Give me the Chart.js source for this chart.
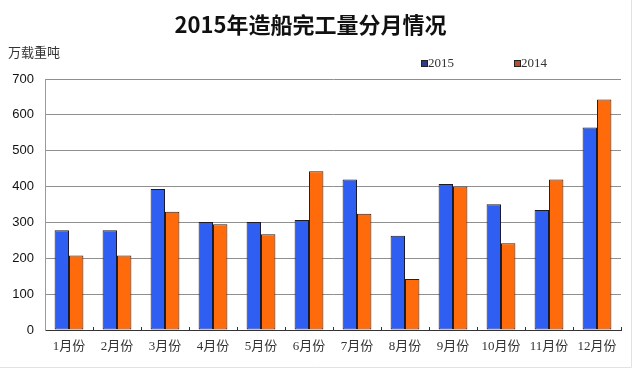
<!DOCTYPE html>
<html>
<head>
<meta charset="utf-8">
<script src="https://cdn.jsdelivr.net/npm/chart.js@4/dist/chart.umd.min.js"></script>
<style>
html,body{margin:0;padding:0;background:#fff;}
#wrap{position:relative;width:636px;height:371px;}
</style>
</head>
<body>
<div id="wrap"><canvas id="c" width="636" height="371"></canvas></div>
<script>
const titleText = '2015年造船完工量分月情况';
const unitText = '万载重吨';
const categories = ['1月份','2月份','3月份','4月份','5月份','6月份','7月份','8月份','9月份','10月份','11月份','12月份'];
const seriesNames = ['2015','2014'];
const values2015 = [278, 278, 393, 301, 301, 307, 420, 263, 407, 351, 335, 565];
const values2014 = [208, 208, 330, 295, 267, 443, 324, 142, 400, 242, 420, 643];
const yTicks = [0, 100, 200, 300, 400, 500, 600, 700];

const blue = '#2f5ff2';
const orange = '#ff6a0a';
const legendBox = ['#2e3a8c', '#b5502a'];

const overlay = {
  id: 'overlay',
  afterDraw(chart) {
    const ctx = chart.ctx;
    ctx.save();
    ctx.fillStyle = '#333';
    ctx.font = '13px "Noto Sans CJK SC", sans-serif';
    ctx.textAlign = 'left';
    ctx.textBaseline = 'middle';
    ctx.fillText(unitText, 8, 52);
    const xs = [421, 514];
    ctx.font = '13px "Liberation Serif", serif';
    chart.data.datasets.forEach((ds, i) => {
      ctx.fillStyle = legendBox[i];
      ctx.fillRect(xs[i], 60, 7, 7);
      ctx.strokeStyle = '#222';
      ctx.lineWidth = 1;
      ctx.strokeRect(xs[i] + 0.5, 60.5, 6, 6);
      ctx.fillStyle = '#333';
      ctx.fillText(ds.label, xs[i] + 7, 63.5);
    });
    ctx.strokeStyle = '#e2e2e2';
    ctx.beginPath();
    ctx.moveTo(631.5, 0); ctx.lineTo(631.5, 367.5); ctx.lineTo(0, 367.5);
    ctx.stroke();
    ctx.restore();
  }
};

new Chart(document.getElementById('c'), {
  type: 'bar',
  data: {
    labels: categories,
    datasets: [
      { label: seriesNames[0], data: values2015, backgroundColor: blue, borderColor: '#1a1a2a', borderWidth: 1, borderSkipped: false },
      { label: seriesNames[1], data: values2014, backgroundColor: orange, borderColor: '#3a1a0a', borderWidth: 1, borderSkipped: false }
    ]
  },
  options: {
    responsive: false,
    animation: false,
    devicePixelRatio: 1,
    layout: { padding: { left: 0, right: 15, top: 0, bottom: 0 } },
    datasets: { bar: { barPercentage: 1.0, categoryPercentage: 0.6 } },
    plugins: {
      legend: { display: false },
      tooltip: { enabled: false },
      title: {
        display: true,
        text: titleText,
        color: '#111',
        font: { family: '"Noto Sans CJK SC", sans-serif', size: 22, weight: 'bold', lineHeight: 1.2 },
        padding: { top: 11, bottom: 41.6 }
      }
    },
    scales: {
      x: {
        offset: true,
        grid: { display: true, drawOnChartArea: false, drawTicks: true, tickLength: -3, color: '#333', offset: true },
        border: { display: true, color: '#333', width: 1 },
        ticks: { color: '#333', font: { family: '"Liberation Serif", "Noto Sans CJK SC", serif', size: 13 }, padding: 12, maxRotation: 0, autoSkip: false },
        afterFit(s) { s.height = 41; }
      },
      y: {
        min: 0, max: 700,
        afterBuildTicks(s) { s.ticks = yTicks.map(v => ({ value: v })); },
        grid: { color: '#8f8f8f', lineWidth: 1, drawTicks: false },
        border: { display: true, color: '#9a9a9a', width: 1 },
        ticks: { color: '#111', font: { family: '"Liberation Sans", Arial, sans-serif', size: 13 }, padding: 11 },
        afterFit(s) { s.width = 45; }
      }
    }
  },
  plugins: [overlay]
});
</script>
</body>
</html>
